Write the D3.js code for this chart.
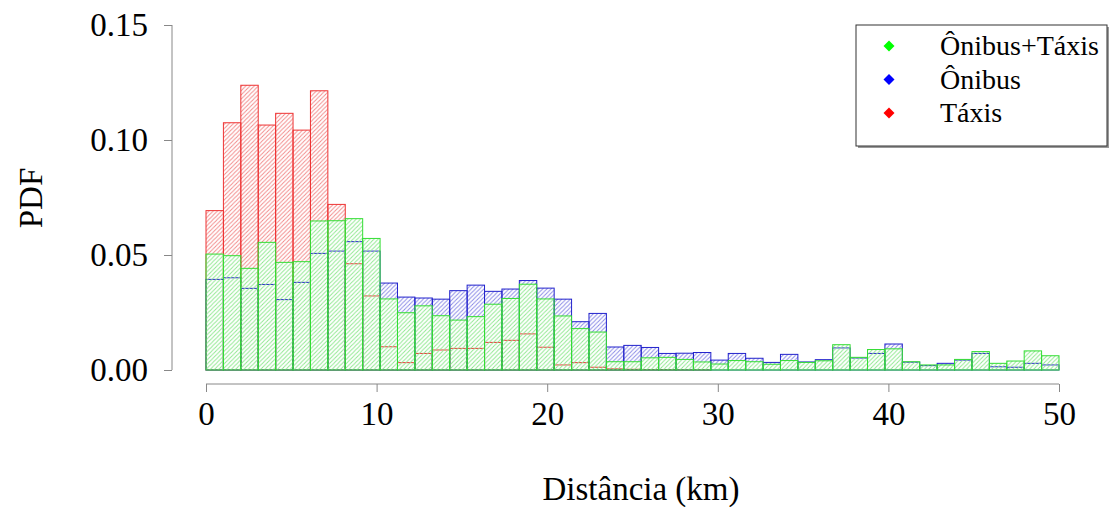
<!DOCTYPE html>
<html>
<head>
<meta charset="utf-8">
<script src="https://cdn.jsdelivr.net/npm/d3@7"></script>
<style>
  body { margin: 0; background: #fff; }
  text { font-family: "Liberation Serif", "Times New Roman", serif; fill: #000; }
</style>
</head>
<body>
<div id="chart"></div>
<script>
// histogram densities, one value per 50/49 km bin (0..50 km)
var binWidth = 50 / 49;

var taxis = [0.0693, 0.1075, 0.1238, 0.1065, 0.1116, 0.1043, 0.1214, 0.0720, 0.0462, 0.0322,
  0.0101, 0.0032, 0.0072, 0.0087, 0.0094, 0.0094, 0.0120, 0.0129, 0.0157, 0.0099,
  0.0022, 0.0032, 0.0012, 0.0005, 0.0003, 0.0002, 0.0002, 0.0001, 0.0001, 0,
  0, 0, 0, 0, 0, 0, 0, 0, 0, 0,
  0, 0, 0, 0, 0, 0, 0, 0, 0];

var onibus = [0.0394, 0.0401, 0.0355, 0.0372, 0.0306, 0.0381, 0.0507, 0.0517, 0.0558, 0.0517,
  0.0378, 0.0317, 0.0313, 0.0308, 0.0345, 0.0369, 0.0342, 0.0352, 0.0389, 0.0356,
  0.0308, 0.0210, 0.0246, 0.0100, 0.0107, 0.0098, 0.0072, 0.0073, 0.0076, 0.0043,
  0.0072, 0.0051, 0.0033, 0.0068, 0.0035, 0.0045, 0.0096, 0.0052, 0.0072, 0.0113,
  0.0034, 0.0019, 0.0029, 0.0043, 0.0072, 0.0014, 0.0012, 0.0029, 0.0022];

var ambos = [0.0504, 0.0497, 0.0442, 0.0555, 0.0468, 0.0471, 0.0648, 0.0649, 0.0658, 0.0572,
  0.0309, 0.0249, 0.0279, 0.0236, 0.0217, 0.0232, 0.0286, 0.0311, 0.0373, 0.0309,
  0.0235, 0.0180, 0.0165, 0.0036, 0.0036, 0.0053, 0.0055, 0.0046, 0.0035, 0.0026,
  0.0041, 0.0036, 0.0025, 0.0041, 0.0033, 0.0040, 0.0110, 0.0055, 0.0089, 0.0092,
  0.0036, 0.0022, 0.0022, 0.0046, 0.0080, 0.0029, 0.0039, 0.0083, 0.0062];

var xTicks = [0, 10, 20, 30, 40, 50];
var yTicks = [0, 0.05, 0.10, 0.15];

var legendLabels = ["Ônibus+Táxis", "Ônibus", "Táxis"];
var legendColors = ["#00ff00", "#0000ff", "#ff0000"];

//Width and height
var w = 1110;
var h = 507;

var svg = d3.select('#chart')
            .append('svg')
            .attr('width', w)
            .attr('height', h);

var x = d3.scaleLinear().domain([0, 50]).range([206, 1059]);
var y = d3.scaleLinear().domain([0, 0.15]).range([370, 25]);

//hatch patterns share the same grid
var defs = svg.append('defs');
var hs = 4.2;
var series = [
  { id: 'red', border: '#ee3333', hatch: '#f28a8a', data: taxis },
  { id: 'blue', border: '#2222cc', hatch: '#8a8ae6', data: onibus },
  { id: 'green', border: '#33dd33', hatch: '#8fe88f', data: ambos }
];

series.forEach(function (s) {
  var p = defs.append('pattern')
    .attr('id', 'hatch-' + s.id)
    .attr('patternUnits', 'userSpaceOnUse')
    .attr('width', hs)
    .attr('height', hs);
  p.append('path')
    .attr('d', 'M0,' + hs + ' L' + hs + ',0 M-1,1 L1,-1 M' + (hs - 1) + ',' + (hs + 1) + ' L' + (hs + 1) + ',' + (hs - 1))
    .attr('stroke', s.hatch)
    .attr('stroke-width', 1);
});

//the part of a bar that is hidden under the series drawn after it
function coveredBy(k, i) {
  var m = 0;
  for (var j = k + 1; j < series.length; j++) {
    m = Math.max(m, series[j].data[i]);
  }
  return Math.min(m, series[k].data[i]);
}

//bars: taxis first, then onibus, then the combined set on top
series.forEach(function (s, k) {
  var g = svg.append('g');

  g.selectAll('rect.hatch')
    .data(s.data)
    .enter()
    .append('rect')
    .attr('class', 'hatch')
    .attr('x', function (d, i) { return x(i * binWidth); })
    .attr('y', function (d) { return y(d); })
    .attr('width', function (d, i) { return x((i + 1) * binWidth) - x(i * binWidth); })
    .attr('height', function (d, i) { return y(coveredBy(k, i)) - y(d); })
    .attr('fill', 'url(#hatch-' + s.id + ')');

  g.selectAll('rect.bar')
    .data(s.data)
    .enter()
    .append('rect')
    .attr('class', 'bar')
    .attr('x', function (d, i) { return x(i * binWidth); })
    .attr('y', function (d) { return y(d); })
    .attr('width', function (d, i) { return x((i + 1) * binWidth) - x(i * binWidth); })
    .attr('height', function (d) { return y(0) - y(d); })
    .attr('fill', 'none')
    .attr('stroke', s.border)
    .attr('stroke-width', 1);
});

//axes
var xAxis = svg.append('g')
  .attr('transform', 'translate(0,384)')
  .call(d3.axisBottom(x).tickValues(xTicks).tickSize(8).tickPadding(10).tickFormat(d3.format('d')));

var yAxis = svg.append('g')
  .attr('transform', 'translate(172,0)')
  .call(d3.axisLeft(y).tickValues(yTicks).tickSize(8).tickPadding(16).tickFormat(d3.format('.2f')));

[xAxis, yAxis].forEach(function (a) {
  a.select('.domain').attr('stroke', '#888').attr('stroke-width', 1);
  a.selectAll('.tick line').attr('stroke', '#888');
  a.selectAll('.tick text')
    .attr('font-family', '"Liberation Serif", serif')
    .attr('font-size', 33)
    .attr('fill', '#000');
});
xAxis.select('.domain').attr('d', 'M' + x(0) + ',0H' + x(50));
yAxis.select('.domain').attr('d', 'M0,' + y(0) + 'V' + y(0.15));

//axis titles
svg.append('text')
  .attr('x', 641)
  .attr('y', 500)
  .attr('text-anchor', 'middle')
  .attr('font-size', 33)
  .text('Distância (km)');

svg.append('text')
  .attr('transform', 'translate(42,198) rotate(-90)')
  .attr('text-anchor', 'middle')
  .attr('font-size', 33)
  .text('PDF');

//legend
var lg = svg.append('g');
lg.append('rect')
  .attr('x', 858).attr('y', 27).attr('width', 251).attr('height', 121)
  .attr('fill', '#999');
lg.append('rect')
  .attr('x', 856).attr('y', 25).attr('width', 251).attr('height', 121)
  .attr('fill', '#fff').attr('stroke', '#333').attr('stroke-width', 1);

var rows = lg.selectAll('g.row')
  .data(legendLabels)
  .enter()
  .append('g')
  .attr('transform', function (d, i) { return 'translate(0,' + (46 + i * 33.5) + ')'; });

rows.append('path')
  .attr('d', 'M889,-5.5 L894.5,0 L889,5.5 L883.5,0 Z')
  .attr('fill', function (d, i) { return legendColors[i]; });

rows.append('text')
  .attr('x', 940)
  .attr('y', 9)
  .attr('font-size', 28)
  .text(function (d) { return d; });
</script>
</body>
</html>
